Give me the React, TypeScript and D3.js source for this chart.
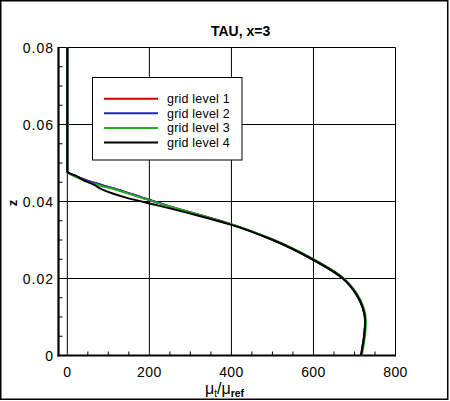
import * as d3 from "d3";

// z positions (shared by all grid levels) and mu_t/mu_ref for each grid level
const zValues = [0.08, 0.0478, 0.0465, 0.0455, 0.0445, 0.043, 0.041, 0.039, 0.0365, 0.034, 0.03, 0.025, 0.02, 0.016, 0.0125, 0.009, 0.0055, 0.0025, 0];
const level1 = [0, 0, 22, 48, 78, 126, 183, 242, 323, 402, 502, 598, 672, 704, 720, 726, 724, 720, 716];
const level2 = [0, 0, 21, 47, 77, 125, 182, 241, 322, 402, 502, 598, 672, 704, 720, 726, 724, 720, 716];
const level3 = [0, 0, 18, 40, 68, 121, 180, 241, 322, 403, 504, 600, 674, 706, 722, 728, 726, 722, 718];
const level4 = [0, 0, 24, 40, 62, 87, 143, 220, 313, 398, 501, 597, 672, 704, 720, 726, 724, 720, 716];

const seriesNames = ["grid level 1", "grid level 2", "grid level 3", "grid level 4"];
const seriesColors = ["#cc0000", "#2222cc", "#22aa22", "#000000"];
const seriesValues = [level1, level2, level3, level4];

const xMajor = [0, 200, 400, 600, 800];
const yMajor = [0, 0.02, 0.04, 0.06, 0.08];

const W = 450;
const H = 401;
const left = 58.5;
const right = 395.5;
const top = 47.5;
const bottom = 355.5;

export default function App() {
  const x = d3.scaleLinear().domain([-21.5, 800]).range([left, right]);
  const y = d3.scaleLinear().domain([0, 0.08]).range([bottom, top]);

  const xMinor = d3.range(50, 800, 50).filter(v => v % 200 !== 0);
  const yMinor = d3.range(0.005, 0.08, 0.005).filter((_, i) => (i + 1) % 4 !== 0);

  const line = d3
    .line<number>()
    .x(d => x(d))
    .y((d, i) => y(zValues[i]))
    .curve(d3.curveMonotoneY);

  const font = "'Liberation Sans', Arial, sans-serif";
  const legendX = 92.5;
  const legendY = 77.5;
  const rowStep = 14.6;

  return (
    <svg width={W} height={H} style={{ position: "absolute", left: 0, top: 0, background: "#fff" }} fontFamily={font}>
      <rect x={0.75} y={0.75} width={447} height={398.5} fill="#fff" stroke="#000" strokeWidth={1.5} />

      {/* grid */}
      {xMajor.slice(0, 4).map(v => (
        <line key={"gx" + v} x1={x(v)} x2={x(v)} y1={bottom} y2={top} stroke="#000" strokeWidth={1} />
      ))}
      {yMajor.slice(1, 4).map(v => (
        <line key={"gy" + v} x1={left} x2={right} y1={y(v)} y2={y(v)} stroke="#000" strokeWidth={1} />
      ))}

      {/* minor ticks */}
      {xMinor.map(v => (
        <line key={"mx" + v} x1={x(v)} x2={x(v)} y1={bottom} y2={bottom - 4} stroke="#000" strokeWidth={1} />
      ))}
      {yMinor.map(v => (
        <line key={"my" + v} x1={left} x2={left + 4} y1={y(v)} y2={y(v)} stroke="#000" strokeWidth={1} />
      ))}

      {/* frame */}
      <line x1={left} x2={right} y1={top} y2={top} stroke="#000" strokeWidth={1} />
      <line x1={right} x2={right} y1={top} y2={bottom} stroke="#000" strokeWidth={1} />
      <line x1={left} x2={left} y1={top - 0.5} y2={bottom + 1} stroke="#000" strokeWidth={2.2} />
      <line x1={left - 1} x2={right + 0.5} y1={bottom} y2={bottom} stroke="#000" strokeWidth={2.2} />

      {/* data */}
      {seriesValues.map((vals, i) => (
        <path key={seriesNames[i]} d={line(vals) || ""} fill="none" stroke={seriesColors[i]} strokeWidth={2} />
      ))}

      {/* tick labels */}
      {xMajor.map(v => (
        <text key={"lx" + v} x={x(v)} y={376.5} fontSize={14} textAnchor="middle" letterSpacing={0.4}>
          {v}
        </text>
      ))}
      {yMajor.map(v => (
        <text key={"ly" + v} x={54} y={y(v) + 5} fontSize={14} textAnchor="end" letterSpacing={1}>
          {v === 0 ? "0" : d3.format(".2f")(v)}
        </text>
      ))}

      {/* title and axis labels */}
      <text x={211} y={36} fontSize={14} fontWeight="bold">
        TAU, x=3
      </text>
      <text x={17} y={203} fontSize={13} fontWeight="bold" textAnchor="middle" transform="rotate(-90 17 203)">
        z
      </text>
      <text x={205} y={394} fontSize={16}>
        μ<tspan fontSize={10} dy={3}>t</tspan>
        <tspan dy={-3}>/μ</tspan>
        <tspan fontSize={10.5} fontWeight="bold" dy={3}>
          ref
        </tspan>
      </text>

      {/* legend */}
      <rect x={legendX} y={legendY} width={149.5} height={82.5} fill="#fff" stroke="#000" strokeWidth={1} />
      {seriesNames.map((name, i) => {
        const cy = 98.7 + i * rowStep;
        return (
          <g key={"lg" + name}>
            <line x1={104} x2={158} y1={cy} y2={cy} stroke={seriesColors[i]} strokeWidth={2} />
            <text x={167} y={cy + 4.5} fontSize={12.5} letterSpacing={0.2}>
              {name}
            </text>
          </g>
        );
      })}
    </svg>
  );
}
